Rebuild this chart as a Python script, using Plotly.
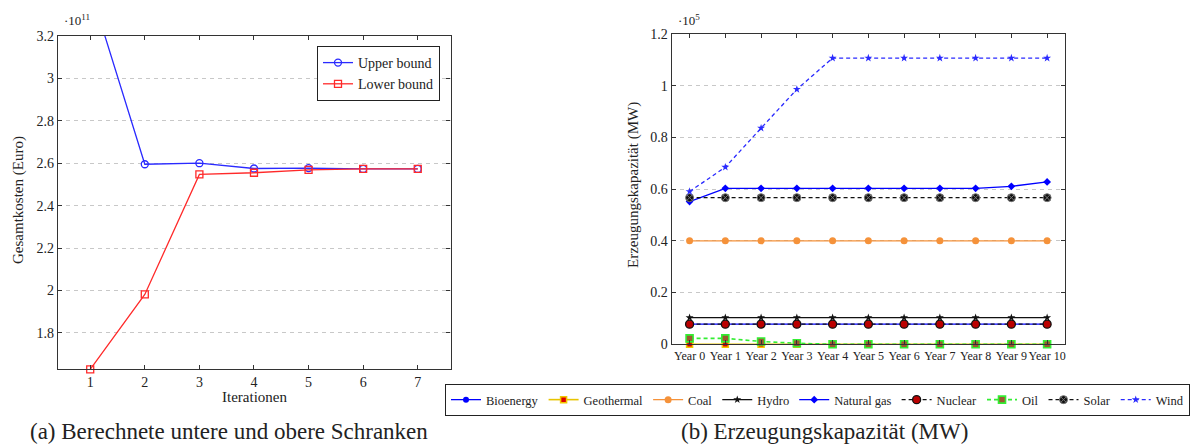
import plotly.graph_objects as go

W, H = 1190, 445
FONT = "Liberation Serif"
TXT = "#222222"

# ---------------- data: (a) bounds ----------------
iterations = [1, 2, 3, 4, 5, 6, 7]
upper_bound = [3.423e11, 2.595e11, 2.600e11, 2.575e11, 2.577e11, 2.573e11, 2.573e11]
lower_bound = [1.628e11, 1.981e11, 2.547e11, 2.555e11, 2.569e11, 2.573e11, 2.573e11]
cost_ticks = [1.8e11, 2.0e11, 2.2e11, 2.4e11, 2.6e11, 2.8e11, 3.0e11, 3.2e11]
cost_tick_labels = ["1.8", "2", "2.2", "2.4", "2.6", "2.8", "3", "3.2"]

# ---------------- data: (b) capacities (MW) ----------------
years = ["Year 0", "Year 1", "Year 2", "Year 3", "Year 4", "Year 5",
         "Year 6", "Year 7", "Year 8", "Year 9", "Year 10"]
bioenergy = [7800, 7800, 7800, 7800, 7800, 7800, 7800, 7800, 7800, 7800, 7800]
geothermal = [0, 0, 0, 0, 0, 0, 0, 0, 0, 0, 0]
coal = [40000, 40000, 40000, 40000, 40000, 40000, 40000, 40000, 40000, 40000, 40000]
hydro = [10300, 10300, 10300, 10300, 10300, 10300, 10300, 10300, 10300, 10300, 10300]
natural_gas = [55200, 60300, 60300, 60300, 60300, 60300, 60300, 60300, 60300, 61100, 62800]
nuclear = [7800, 7800, 7800, 7800, 7800, 7800, 7800, 7800, 7800, 7800, 7800]
oil = [2300, 2300, 1100, 400, 0, 0, 0, 0, 0, 0, 0]
solar = [56700, 56700, 56700, 56700, 56700, 56700, 56700, 56700, 56700, 56700, 56700]
wind = [59100, 68500, 83600, 98600, 110700, 110700, 110700, 110700, 110700, 110700, 110700]
cap_ticks = [0, 20000, 40000, 60000, 80000, 100000, 120000]
cap_tick_labels = ["0", "0.2", "0.4", "0.6", "0.8", "1", "1.2"]


def fx(px):
    return px / W


def fy(py):
    return 1 - py / H


DASH = "4px,3px"
fig = go.Figure()

# ---- left chart ----
fig.add_trace(go.Scatter(
    x=iterations, y=upper_bound, name="Upper bound", mode="lines+markers",
    line=dict(color="#2a2aff", width=1.3),
    marker=dict(symbol="circle-open", size=7, color="#2a2aff", line=dict(width=1.3)),
    xaxis="x", yaxis="y", legend="legend2", cliponaxis=True))
fig.add_trace(go.Scatter(
    x=iterations, y=lower_bound, name="Lower bound", mode="lines+markers",
    line=dict(color="#ff2a2a", width=1.3),
    marker=dict(symbol="square-open", size=7, color="#ff2a2a", line=dict(width=1.3)),
    xaxis="x", yaxis="y", legend="legend2", cliponaxis=False))

# ---- right chart ----
series = [
    ("Bioenergy", bioenergy, dict(color="#0000ff", width=1.3, dash="solid"),
     dict(symbol="circle", size=6, color="#0000ff")),
    ("Geothermal", geothermal, dict(color="#e8c400", width=1.6, dash="solid"),
     dict(symbol="square", size=6, color="#dd0000", line=dict(color="#f0c800", width=1.5))),
    ("Coal", coal, dict(color="#f5923a", width=1.3, dash="solid"),
     dict(symbol="circle", size=7, color="#f5923a")),
    ("Hydro", hydro, dict(color="#111111", width=1.3, dash="solid"),
     dict(symbol="star", size=6, color="#111111")),
    ("Natural gas", natural_gas, dict(color="#0000ff", width=1.3, dash="solid"),
     dict(symbol="diamond", size=6, color="#0000ff")),
    ("Nuclear", nuclear, dict(color="#111111", width=1.3, dash=DASH),
     dict(symbol="circle", size=8, color="#bb0000", line=dict(color="#111111", width=1.3))),
    ("Oil", oil, dict(color="#33ee33", width=1.6, dash=DASH),
     dict(symbol="square", size=7, color="#9a5a30", line=dict(color="#33ee33", width=1.6))),
    ("Solar", solar, dict(color="#111111", width=1.3, dash=DASH),
     dict(symbol="circle-x", size=8, color="#111111", line=dict(color="#777777", width=1))),
    ("Wind", wind, dict(color="#2a2aff", width=1.3, dash=DASH),
     dict(symbol="star", size=6, color="#2a2aff")),
]
for name, vals, ln, mk in series:
    fig.add_trace(go.Scatter(
        x=years, y=vals, name=name, mode="lines+markers", line=ln, marker=mk,
        xaxis="x2", yaxis="y2", legend="legend", cliponaxis=False))

axis_common = dict(
    showline=True, linecolor="#333333", linewidth=1.2, mirror="ticks",
    ticks="inside", ticklen=4, tickcolor="#333333", tickwidth=1,
    tickfont=dict(family=FONT, size=14, color=TXT), zeroline=False,
)

fig.update_layout(
    width=W, height=H, margin=dict(l=0, r=0, t=0, b=0, autoexpand=False),
    paper_bgcolor="white", plot_bgcolor="white",
    font=dict(family=FONT, color=TXT),
    xaxis=dict(domain=[fx(58), fx(450.5)], range=[0.41, 7.6], tickvals=iterations,
               showgrid=False, anchor="y", **axis_common),
    yaxis=dict(domain=[fy(369.3), fy(36)], range=[1.628e11, 3.2e11],
               tickvals=cost_ticks, ticktext=cost_tick_labels,
               showgrid=True, gridcolor="#c8c8c8", griddash="4px,4px", gridwidth=1,
               anchor="x", **axis_common),
    xaxis2=dict(domain=[fx(671.7), fx(1065)], type="category", range=[-0.5, 10.5],
                tickangle=0, showgrid=False, anchor="y2",
                **{**axis_common, "tickfont": dict(family=FONT, size=12, color=TXT)}),
    yaxis2=dict(domain=[fy(344.3), fy(34)], range=[0, 120000],
                tickvals=cap_ticks, ticktext=cap_tick_labels,
                showgrid=True, gridcolor="#c8c8c8", griddash="4px,4px", gridwidth=1,
                anchor="x2", **axis_common),
    legend2=dict(x=fx(440), y=fy(46), xanchor="right", yanchor="top",
                 bgcolor="white", bordercolor="#222222", borderwidth=1,
                 font=dict(family=FONT, size=14, color=TXT), itemwidth=30,
                 tracegroupgap=0),
    legend=dict(orientation="h", x=fx(445), y=fy(384), xanchor="left", yanchor="top",
                bgcolor="white", bordercolor="#222222", borderwidth=1,
                font=dict(family=FONT, size=12.5, color=TXT), itemwidth=30),
    showlegend=True,
)

annotations = [
    dict(text="·10<sup>11</sup>", x=fx(62), y=fy(20), xanchor="left", yanchor="middle",
         font=dict(size=13)),
    dict(text="·10<sup>5</sup>", x=fx(676), y=fy(20), xanchor="left", yanchor="middle",
         font=dict(size=13)),
    dict(text="Gesamtkosten (Euro)", x=fx(18), y=fy(200), textangle=-90,
         xanchor="center", yanchor="middle", font=dict(size=15)),
    dict(text="Iterationen", x=fx(254.5), y=fy(397), xanchor="center", yanchor="middle",
         font=dict(size=15)),
    dict(text="Erzeugungskapazität (MW)", x=fx(633), y=fy(185), textangle=-90,
         xanchor="center", yanchor="middle", font=dict(size=15)),
    dict(text="(a) Berechnete untere und obere Schranken", x=fx(229), y=fy(431),
         xanchor="center", yanchor="middle", font=dict(size=23)),
    dict(text="(b) Erzeugungskapazität (MW)", x=fx(824), y=fy(431),
         xanchor="center", yanchor="middle", font=dict(size=23)),
]
for a in annotations:
    a.update(xref="paper", yref="paper", showarrow=False)
    a["font"] = dict(family=FONT, color=TXT, **a["font"])
fig.update_layout(annotations=annotations)

fig.write_html("out.html", config={"displayModeBar": False},
               post_script="document.body.style.margin='0';")
